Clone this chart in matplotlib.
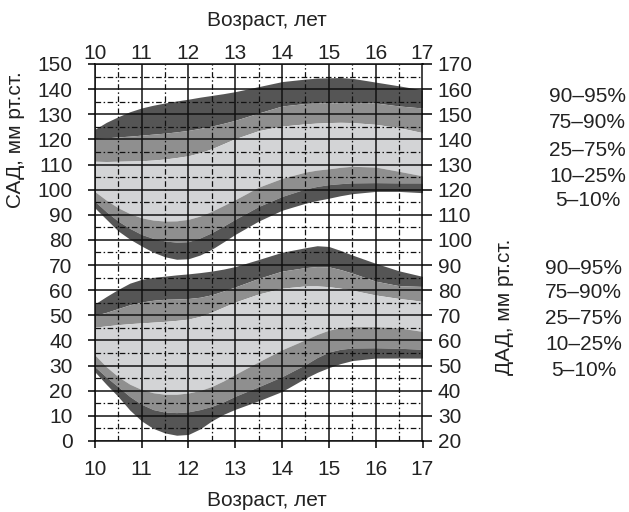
import matplotlib
matplotlib.use("Agg")
import matplotlib.pyplot as plt

plt.rcParams['font.family'] = ['Liberation Sans', 'DejaVu Sans']

# Возраст, лет
years = [10, 10.25, 10.5, 10.75, 11, 11.25, 11.5, 11.75, 12, 12.25, 12.5, 12.75, 13,
         13.5, 14, 14.5, 14.75, 15, 15.25, 15.5, 16, 16.5, 17]

# САД, перцентили (левая шкала)
sad_p95 = [124, 126.8, 129, 131, 132.5, 133.6, 134.5, 135.3, 136, 136.8, 137.5, 138.2, 139,
           141, 143, 144, 144.4, 144.5, 144.6, 144.3, 142.8, 141.3, 139.7]
sad_p90 = [120.3, 120.6, 121, 121.3, 121.7, 122.1, 122.5, 123, 123.6, 124.4, 125.3, 126.4, 127.6,
           130.5, 133.3, 134.3, 134.5, 134.5, 134.6, 134.7, 134.5, 133.3, 132.5]
sad_p75 = [111.3, 111.2, 111.3, 111.4, 111.5, 111.8, 112.2, 112.8, 113.5, 114.7, 116.3, 118.3, 120.3,
           123.5, 125.3, 126.2, 126.5, 126.7, 126.8, 126.7, 126, 124.7, 122.7]
sad_p25 = [99.3, 95.8, 92.8, 90.5, 88.8, 87.9, 87.5, 87.6, 88.2, 89.5, 91.4, 93.7, 96,
           101, 104.5, 107, 107.8, 108.3, 108.9, 109.3, 109, 107.3, 105.5]
sad_p10 = [95.4, 91.2, 87.5, 84.6, 82.2, 80.6, 79.6, 79.1, 79.3, 80.8, 82.9, 85.5, 88.2,
           93.3, 97.3, 100.3, 101.3, 102, 102.4, 102.7, 102.8, 102.7, 102.7]
sad_p5 = [92.8, 88.2, 83.6, 80.3, 77.6, 75.1, 73.3, 72.3, 72.5, 74, 76.3, 79.2, 82.2,
          87.5, 91.8, 94.6, 95.7, 96.6, 97.6, 98.4, 99.3, 99.3, 98.8]

# ДАД, перцентили (в координатах левой шкалы)
dad_p95 = [54.5, 57.5, 60.3, 62.8, 64.3, 65.1, 65.6, 66.1, 66.5, 67, 67.6, 68.4, 69.4,
           72.2, 75.1, 76.9, 77.7, 77.4, 75.8, 74, 70.7, 67.7, 65.5]
dad_p90 = [50, 51.2, 52.7, 54.2, 55.3, 56, 56.4, 56.5, 56.7, 57.2, 58.2, 59.7, 61.3,
           64.7, 67.6, 69, 69.4, 69.3, 68.2, 66.8, 63.6, 61.8, 61.5]
dad_p75 = [45.3, 45.8, 46.3, 46.7, 47, 47.3, 47.6, 48, 48.5, 49.6, 51.3, 53.3, 55.3,
           58.5, 60.8, 61.7, 61.7, 61.4, 60.8, 60, 58.1, 56.7, 55.6]
dad_p25 = [34.3, 29.5, 25.6, 22.6, 20.5, 19.2, 18.6, 18.6, 19.1, 20.1, 21.7, 23.9, 26.5,
           31.5, 36.3, 40.3, 42.4, 44.1, 45.1, 45.5, 45.5, 45, 43.6]
dad_p10 = [29.6, 25.4, 21.6, 17.7, 14.6, 12.5, 11.5, 11.3, 11.6, 12.5, 13.8, 15.6, 17.8,
           21.6, 25.6, 30.4, 33.2, 35.4, 36.5, 37, 37.1, 36.9, 36.5]
dad_p5 = [27.6, 22.5, 17.7, 12.3, 8, 5, 3.2, 2.3, 2.6, 4.8, 8, 10.6, 12.6,
          16, 19.7, 25, 27.3, 29.2, 30.8, 32, 33, 33, 33]

band_labels = ['90–95%', '75–90%', '25–75%', '10–25%', '5–10%']

DARK = '#555555'
MID = '#8f8f8f'
LIGHT = '#d3d4d6'
TXT = '#222222'
FS = 15

fig = plt.figure(figsize=(6.29, 5.12), dpi=100)
W, H = 629.0, 512.0
ax = fig.add_axes([94.7 / W, 1 - 441 / H, (422.5 - 94.7) / W, (441 - 64) / H])


def draw_bands(p95, p90, p75, p25, p10, p5):
    ax.fill_between(years, p90, p95, color=DARK, lw=0)
    ax.fill_between(years, p75, p90, color=MID, lw=0)
    ax.fill_between(years, p25, p75, color=LIGHT, lw=0)
    ax.fill_between(years, p10, p25, color=MID, lw=0)
    ax.fill_between(years, p5, p10, color=DARK, lw=0)


draw_bands(sad_p95, sad_p90, sad_p75, sad_p25, sad_p10, sad_p5)
draw_bands(dad_p95, dad_p90, dad_p75, dad_p25, dad_p10, dad_p5)

ax.set_xlim(10, 17)
ax.set_ylim(0, 150)
ax.set_xticks(range(10, 18))
ax.set_xticks([x + 0.5 for x in range(10, 17)], minor=True)
ax.set_yticks(range(0, 151, 10))
ax.set_yticks(range(5, 150, 10), minor=True)

ax.set_axisbelow(False)
ax.grid(which='major', color='#111111', lw=1.1, ls='-')
ax.grid(which='minor', color='#111111', lw=0.9, ls=(0, (4.5, 2, 1.2, 2)))

for s in ax.spines.values():
    s.set_linewidth(1.1)
    s.set_color('#111111')

ax.tick_params(axis='both', which='minor', length=0)
ax.tick_params(axis='y', which='major', direction='out', length=5, width=1.1,
               pad=11, labelsize=FS, labelcolor=TXT)
ax.tick_params(axis='x', which='major', direction='out', length=5, width=1.1,
               pad=8.5, labelsize=FS, labelcolor=TXT)

top = ax.secondary_xaxis('top')
top.set_xticks(range(10, 18))
top.tick_params(length=0, pad=1, labelsize=FS, labelcolor=TXT)
top.spines['top'].set_visible(False)

ax2 = ax.twinx()
ax2.set_ylim(20, 170)
ax2.set_yticks(range(20, 171, 10))
ax2.tick_params(axis='y', direction='out', length=7, width=1.1, pad=4,
                labelsize=FS, labelcolor=TXT)
for s in ax2.spines.values():
    s.set_visible(False)

# подписи осей
fig.text(267 / W, 1 - 20 / H, 'Возраст, лет', ha='center', va='center', fontsize=FS, color=TXT)
fig.text(267 / W, 1 - 500 / H, 'Возраст, лет', ha='center', va='center', fontsize=FS, color=TXT)
fig.text(16 / W, 1 - 140 / H, 'САД, мм рт.ст.', ha='center', va='center', rotation=90,
         fontsize=FS, color=TXT)
fig.text(504 / W, 1 - 307 / H, 'ДАД, мм рт.ст.', ha='center', va='center', rotation=90,
         fontsize=FS, color=TXT)

# легенды перцентилей
upper_y = [97, 122, 150, 176, 200]
lower_y = [268, 292, 319, 345, 370]
for lab, yu, yl in zip(band_labels, upper_y, lower_y):
    fig.text(587.5 / W, 1 - yu / H, lab, ha='center', va='center', fontsize=FS, color=TXT)
    fig.text(583.5 / W, 1 - yl / H, lab, ha='center', va='center', fontsize=FS, color=TXT)

fig.savefig('out.png', dpi=100)
